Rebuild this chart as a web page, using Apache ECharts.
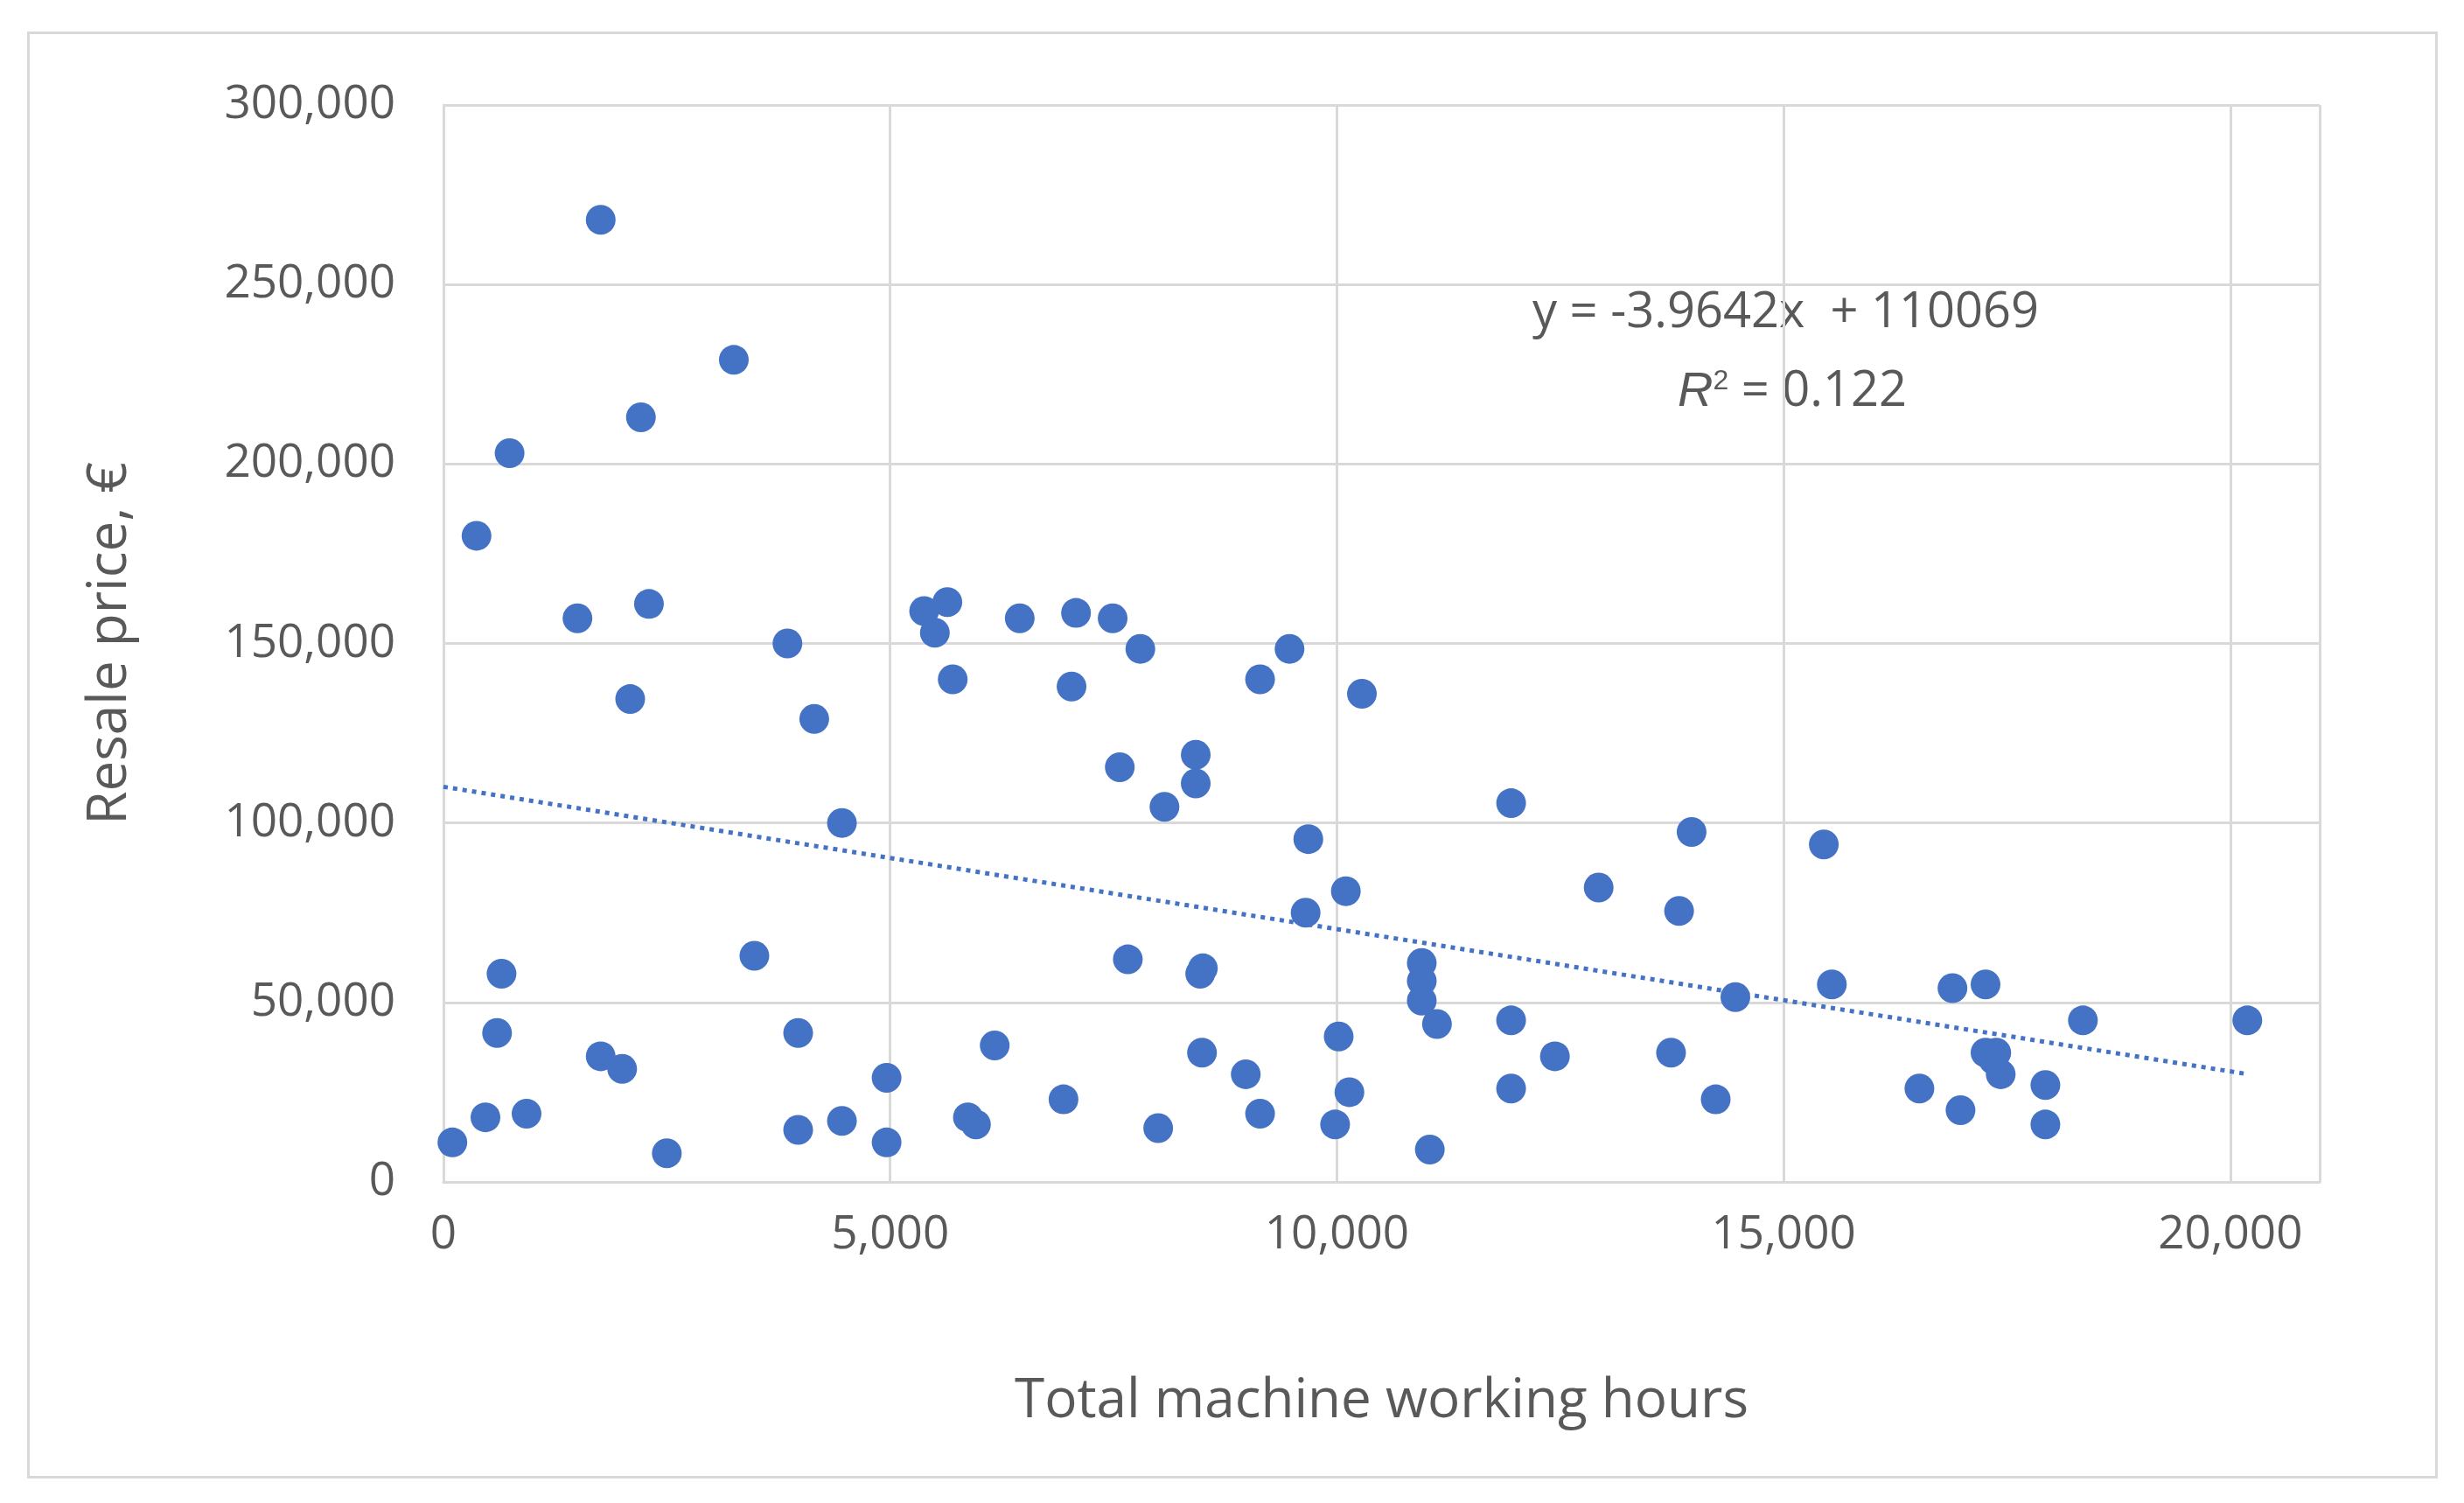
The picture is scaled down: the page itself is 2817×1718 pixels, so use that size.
<!DOCTYPE html>
<html><head><meta charset="utf-8">
<script src="https://cdn.jsdelivr.net/npm/echarts@6/dist/echarts.min.js"></script>
<style>
html,body{margin:0;padding:0;background:#fff}
#frame{position:absolute;left:31px;top:36px;width:2756px;height:1654px;border:3px solid #d9d9d9;box-sizing:border-box}
#main{position:absolute;left:0;top:0;width:2817px;height:1718px}
</style></head>
<body>
<div id="frame"></div>
<div id="main"></div>
<script>
// hours, price pairs
const hours = [100,370,470,600,650,740,930,1500,1760,1760,2000,2090,2210,2300,2500,3250,3480,3850,3970,3970,4150,4460,4460,4960,4960,5380,5500,5640,5700,5870,5960,6170,6450,6940,7030,7080,7490,7570,7660,7800,8000,8070,8420,8420,8470,8490,8500,8980,9140,9140,9470,9650,9680,9980,10020,10100,10140,10280,10950,10950,10950,11040,11120,11950,11950,11950,12440,12930,13740,13830,13970,14240,14460,15450,15540,16520,16890,16980,17260,17260,17350,17430,17380,17930,17930,18350,20190];
const prices = [11000,180000,18000,41500,58000,203000,19000,157000,268000,35000,31500,134500,213000,161000,8000,229000,63000,150000,41500,14500,129000,100000,17000,29000,11000,159000,153000,161500,140000,18000,16000,38000,157000,23000,138000,158500,157000,115500,62000,148500,15000,104500,119000,111000,58000,36000,59500,30000,19000,140000,148500,75000,95500,16000,40500,81000,25000,136000,61000,56000,50500,9000,44000,105500,45000,26000,35000,82000,36000,75500,97500,23000,51500,94000,55000,26000,54000,20000,55000,36000,34000,30000,36000,27000,16000,45000,45000];
const trendSlope = -3.9642;
const trendIntercept = 110069;
const trendRange = [0, 20200];

const points = hours.map((h, i) => [h, prices[i]]);
const trend = trendRange.map(x => [x, trendSlope * x + trendIntercept]);

const chart = echarts.init(document.getElementById('main'));
const txt = '#595959';
const font = "'Open Sans', 'Noto Sans', sans-serif";
chart.setOption({
    animation: false,
    textStyle: {fontFamily: font},
    grid: {left: 507, right: 165, top: 120, bottom: 367},
    xAxis: {
        type: 'value', min: 0, max: 21000, interval: 5000,
        name: 'Total machine working hours', nameLocation: 'middle', nameGap: 220,
        nameTextStyle: {fontSize: 62, color: txt, fontFamily: font},
        axisLine: {show: true, lineStyle: {color: '#d9d9d9', width: 3}},
        axisTick: {show: false},
        axisLabel: {fontSize: 53, color: txt, margin: 34, showMaxLabel: false,
            formatter: v => v.toLocaleString('en-US')},
        splitLine: {show: true, lineStyle: {color: '#d9d9d9', width: 3}}
    },
    yAxis: {
        type: 'value', min: 0, max: 300000, interval: 50000,
        name: 'Resale price, €', nameLocation: 'middle', nameGap: 350,
        nameTextStyle: {fontSize: 62, color: txt, fontFamily: font},
        axisLine: {show: true, lineStyle: {color: '#d9d9d9', width: 3}},
        axisTick: {show: false},
        axisLabel: {fontSize: 53, color: txt, margin: 55,
            formatter: v => v.toLocaleString('en-US')},
        splitLine: {show: true, lineStyle: {color: '#d9d9d9', width: 3}}
    },
    series: [{
        type: 'scatter', data: points, symbolSize: 34,
        itemStyle: {color: '#4472C4', opacity: 1}
    }, {
        type: 'line', data: trend, symbol: 'none',
        lineStyle: {color: '#4472C4', width: 5, type: [5, 6]}
    }],
    graphic: [{
        type: 'text', left: 1752, top: 330,
        style: {text: 'y = -3.9642x  + 110069', fontSize: 56, fill: txt, fontFamily: font}
    }, {
        type: 'text', left: 1918, top: 420,
        style: {text: '{i|R}{s|2} = 0.122', fontSize: 56, fill: txt, fontFamily: font,
            rich: {i: {fontStyle: 'italic', fontSize: 56, fill: txt},
                   s: {fontSize: 32, verticalAlign: 'top', fill: txt}}}
    }]
});
</script>
</body></html>
